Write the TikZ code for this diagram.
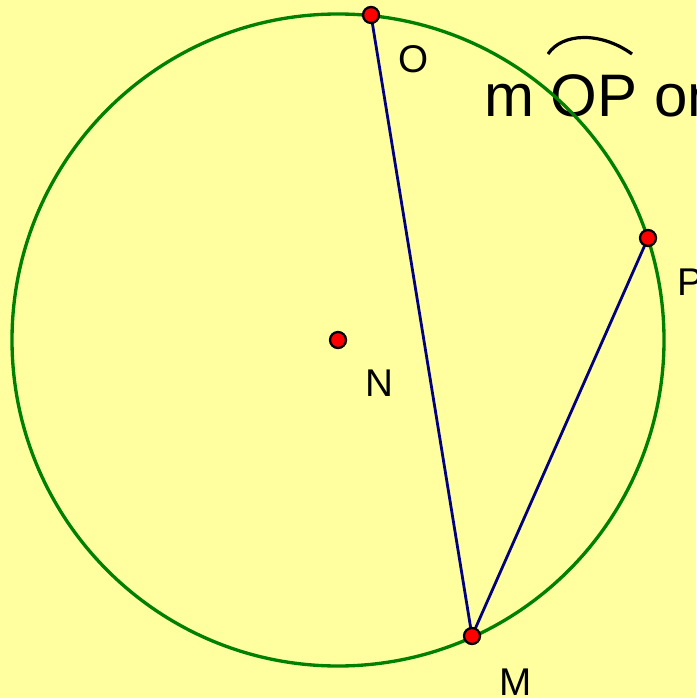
\documentclass[tikz,border=0pt]{standalone}
\usepackage{fontspec}
\setmainfont{Liberation Sans}
\usetikzlibrary{positioning}
\definecolor{PaperYellow}{HTML}{FFFFA0}
\definecolor{CircleGreen}{HTML}{008000}
\definecolor{ChordNavy}{HTML}{000080}
\definecolor{PointRed}{HTML}{FF0000}

\begin{document}
\begin{tikzpicture}[
	x=0.75pt, y=-0.75pt,
	dot/.style={circle, draw=black, fill=PointRed, line width=1.7pt, minimum size=12pt, inner sep=0pt},
	ptlabel/.style={font=\fontsize{29}{30}\selectfont, inner sep=0pt},
	chord/.style={draw=ChordNavy, line width=2.1pt},
	rim/.style={draw=CircleGreen, line width=2.5pt},
	arcmark/.style={draw=black, line width=2.4pt}
]
\useasboundingbox (0,0) rectangle (696,698);
\clip (0,0) rectangle (696,698);
\fill[PaperYellow] (0,0) rectangle (696,698);

\coordinate (N) at (338,340);
\coordinate (O) at (371,15);
\coordinate (P) at (648,238);
\coordinate (M) at (472,636);

% title text with the arc sign over OP
\node[anchor=base west, font=\fontsize{45}{46}\selectfont, inner sep=0pt] (measure) at (484,117) {m OP on};
\draw[arcmark] (548,54) .. controls (562,33) and (600,31) .. (632,54);

\draw[rim] (N) circle[radius=326];
\draw[chord] (O) -- (M);
\draw[chord] (P) -- (M);

\node[dot] (Ndot) at (N) {};
\node[dot] (Odot) at (O) {};
\node[dot] (Pdot) at (P) {};
\node[dot] (Mdot) at (M) {};

\node[ptlabel] (Olabel) at (414,59) {O};
\node[ptlabel] (Plabel) at (690,282) {P};
\node[ptlabel] (Nlabel) at (379,383) {N};
\node[ptlabel] (Mlabel) at (516,682) {M};
\end{tikzpicture}
\end{document}
